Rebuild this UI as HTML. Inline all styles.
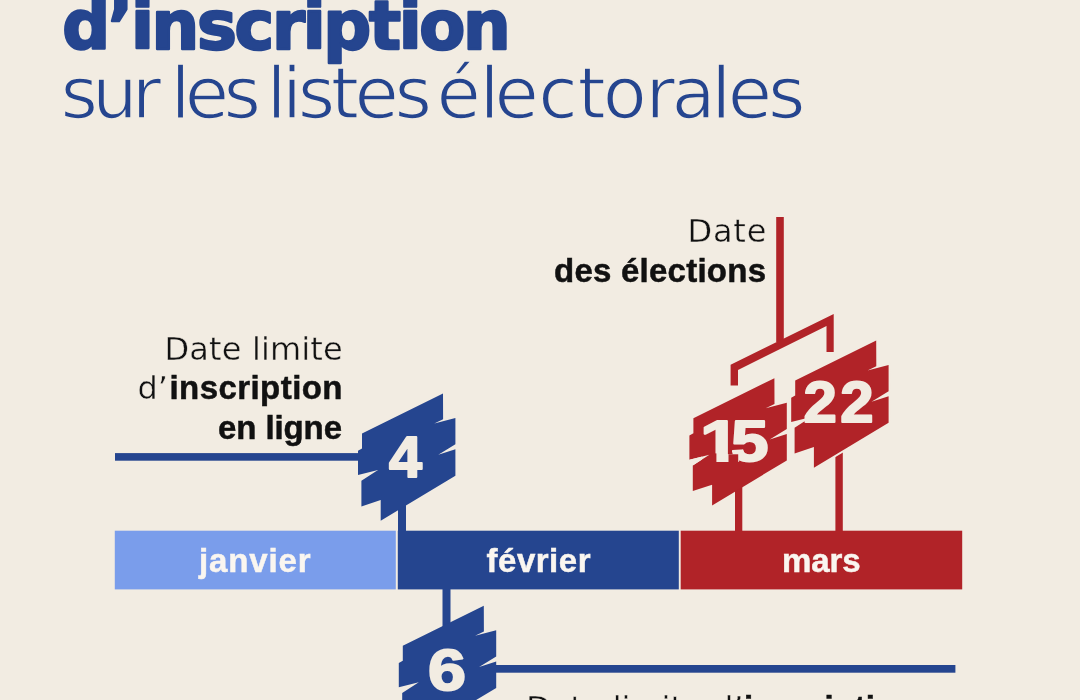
<!DOCTYPE html>
<html lang="fr">
<head>
<meta charset="utf-8">
<title>Dates limites d’inscription sur les listes électorales</title>
<style>
  html,body{margin:0;padding:0;}
  body{width:1080px;height:700px;overflow:hidden;background:#f2ece2;font-family:"Liberation Sans",sans-serif;}
  svg{display:block;position:absolute;left:0;top:0;}
  .blue{fill:#25458f;}
  .lblue{fill:#7a9deb;}
  .red{fill:#b12328;}
  .cream{fill:#f2ece2;}
  text{font-family:"Liberation Sans",sans-serif;}
  .h1{font-family:"DejaVu Sans","Liberation Sans",sans-serif;font-weight:700;font-size:67px;fill:#25458f;stroke:#25458f;stroke-width:2.4px;stroke-linejoin:round;}
  .h2{font-family:"DejaVu Sans","Liberation Sans",sans-serif;font-weight:400;font-size:72px;fill:#25458f;stroke:#f2ece2;stroke-width:1.6px;}
  .lab{fill:#111111;}
  .l{font-family:"DejaVu Sans","Liberation Sans",sans-serif;font-weight:400;font-size:32px;stroke:#f2ece2;stroke-width:0.4px;}
  .b{font-family:"Liberation Sans",sans-serif;font-weight:700;font-size:33px;stroke:#111111;stroke-width:0.5px;}
  .month{font-weight:700;font-size:33px;fill:#faf6f0;stroke:#faf6f0;stroke-width:0.5px;}
  .ls3{letter-spacing:3.2px;}
  .num{font-weight:700;font-size:58px;fill:#f2ece2;stroke:#f2ece2;stroke-width:2px;stroke-linejoin:round;}
</style>
</head>
<body>
<svg width="1080" height="700" viewBox="0 0 1080 700">
  <rect class="cream" x="0" y="0" width="1080" height="700"/>

  <!-- title -->
  <text class="h1" x="62.2" y="48.8" textLength="448.5" lengthAdjust="spacing">d’inscription</text>
  <text class="h2" x="60" y="118"><tspan x="60.4" textLength="101" lengthAdjust="spacing">sur</tspan> <tspan x="170.5" textLength="90.5" lengthAdjust="spacing">les</tspan> <tspan x="266.5" textLength="165.5" lengthAdjust="spacing">listes</tspan> <tspan x="436.5 479.6 494.6 538.2 577.4 602.7 645.4 671.5 711.2 727.8 768.1">électorales</tspan></text>

  <!-- timeline bar -->
  <rect class="lblue" x="114.8" y="530.7" width="281" height="58.7"/>
  <rect class="blue" x="397.8" y="530.7" width="281" height="58.7"/>
  <rect class="red" x="680.7" y="530.7" width="281.5" height="58.7"/>
  <text class="month" x="199" y="572" textLength="111.5" lengthAdjust="spacing">janvier</text>
  <text class="month" x="486.5" y="572" textLength="104" lengthAdjust="spacing">février</text>
  <text class="month" x="782" y="572" textLength="78.5" lengthAdjust="spacing">mars</text>

  <!-- 4 : online registration deadline -->
  <rect class="blue" x="115" y="453.1" width="250" height="7.6"/>
  <rect class="blue" x="398" y="500" width="8" height="32"/>
  <polygon class="blue" points="443,393.5 362,433.6 362,448.6 358,450.7 358,475 378,470 361.4,480.7 361.4,506.4 380.7,500 380.7,520.7 455.4,475.7 455.4,449.3 438.3,454.7 455.4,444.3 455.4,418.1 434.3,423.6 443.1,419.3"/>
  <text class="num" x="389" y="477" textLength="33" lengthAdjust="spacingAndGlyphs">4</text>

  <!-- 6 : registration deadline -->
  <rect class="blue" x="490" y="665" width="465.4" height="7.7"/>
  <rect class="blue" x="442.5" y="589" width="8" height="50"/>
  <g transform="translate(40.8,212.2)">
    <polygon class="blue" points="443,393.5 362,433.6 362,448.6 358,450.7 358,475 378,470 361.4,480.7 361.4,506.4 380.7,500 380.7,520.7 455.4,475.7 455.4,449.3 438.3,454.7 455.4,444.3 455.4,418.1 434.3,423.6 443.1,419.3"/>
  </g>
  <text class="num" x="428" y="689.6" textLength="38" lengthAdjust="spacingAndGlyphs">6</text>

  <!-- elections -->
  <rect class="red" x="776.2" y="217" width="7.6" height="125"/>
  <polygon class="red" points="730.6,364.8 833.7,313.9 833.7,352 826.5,352 826.5,326 738,370 738,385.6 730.6,385.6"/>
  <rect class="red" x="735" y="480" width="7.3" height="52"/>
  <rect class="red" x="835.4" y="440" width="7.4" height="92"/>
  <g transform="translate(331.4,-15.3)">
    <polygon class="red" points="443,393.5 362,433.6 362,448.6 358,450.7 358,475 378,470 361.4,480.7 361.4,506.4 380.7,500 380.7,520.7 455.4,475.7 455.4,449.3 438.3,454.7 455.4,444.3 455.4,418.1 434.3,423.6 443.1,419.3"/>
  </g>
  <g transform="translate(433.2,-53)">
    <polygon class="red" style="stroke:#f2ece2;stroke-width:4px;paint-order:stroke;" points="443,393.5 362,433.6 362,448.6 358,450.7 358,475 378,470 361.4,480.7 361.4,506.4 380.7,500 380.7,520.7 455.4,475.7 455.4,449.3 438.3,454.7 455.4,444.3 455.4,418.1 434.3,423.6 443.1,419.3"/>
  </g>
  <text class="num" x="703" y="460.7"><tspan x="700" textLength="40" lengthAdjust="spacingAndGlyphs">1</tspan><tspan x="731" textLength="37.5" lengthAdjust="spacingAndGlyphs">5</tspan></text>
  <rect class="red" x="702" y="453.4" width="14.4" height="10.6"/>
  <rect class="red" x="728.5" y="454.3" width="9.7" height="9.7"/>
  <polygon class="cream" points="689.4,459.7 709.4,454.7 692.8,465.4"/>
  <text class="num ls3" x="803.6" y="422" textLength="73.2" lengthAdjust="spacingAndGlyphs">22</text>

  <!-- labels -->
  <text class="lab l" x="164.6" y="359.6" textLength="178" lengthAdjust="spacing">Date limite</text>
  <text class="lab" y="399.4"><tspan class="l" x="137.5">d’</tspan><tspan class="b" x="169.5" textLength="173" lengthAdjust="spacing">inscription</tspan></text>
  <text class="lab b" x="218" y="439" textLength="124" lengthAdjust="spacing">en ligne</text>

  <text class="lab l" x="687.4" y="241.7" textLength="79" lengthAdjust="spacing">Date</text>
  <text class="lab b" x="554" y="282.2" textLength="212" lengthAdjust="spacing">des élections</text>

  <text class="lab" y="718.8"><tspan class="l" x="526">Date limite d’</tspan><tspan class="b" x="744" textLength="172" lengthAdjust="spacing">inscription</tspan></text>
</svg>
</body>
</html>
